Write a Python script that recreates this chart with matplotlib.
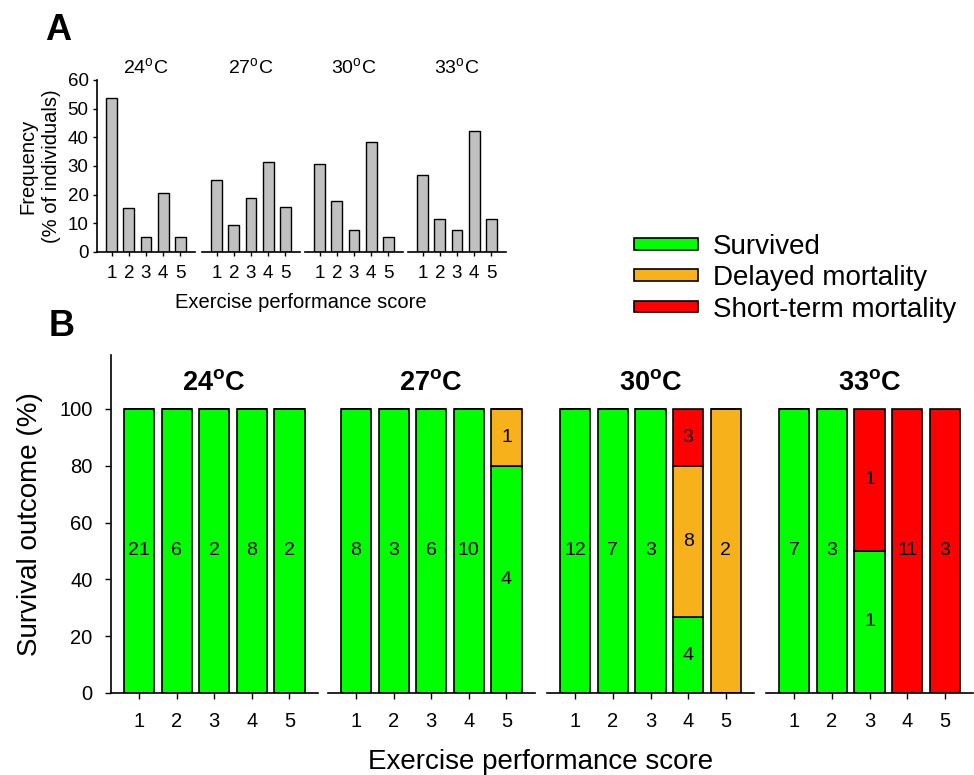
import matplotlib
matplotlib.use('Agg')
import matplotlib.pyplot as plt
from matplotlib.patches import Patch

plt.rcParams['font.family'] = ['Liberation Sans', 'DejaVu Sans']
plt.rcParams['mathtext.fontset'] = 'custom'
plt.rcParams['mathtext.rm'] = 'Liberation Sans'
plt.rcParams['mathtext.bf'] = 'Liberation Sans:bold'

temps = ['24', '27', '30', '33']
scores = [1, 2, 3, 4, 5]

# panel A: frequency (% of individuals) per score
freq = {
    '24': [53.8, 15.4, 5.1, 20.5, 5.1],
    '27': [25.0, 9.4, 18.8, 31.3, 15.6],
    '30': [30.8, 17.9, 7.7, 38.5, 5.1],
    '33': [26.9, 11.5, 7.7, 42.3, 11.5],
}

# panel B: number of individuals per outcome and score
survived = {
    '24': [21, 6, 2, 8, 2],
    '27': [8, 3, 6, 10, 4],
    '30': [12, 7, 3, 4, 0],
    '33': [7, 3, 1, 0, 0],
}
delayed = {
    '24': [0, 0, 0, 0, 0],
    '27': [0, 0, 0, 0, 1],
    '30': [0, 0, 0, 8, 2],
    '33': [0, 0, 0, 0, 0],
}
short_term = {
    '24': [0, 0, 0, 0, 0],
    '27': [0, 0, 0, 0, 0],
    '30': [0, 0, 0, 3, 0],
    '33': [0, 0, 1, 11, 3],
}

outcome_names = ['Survived', 'Delayed mortality', 'Short-term mortality']
outcome_colors = ['#00FF00', '#F7B21B', '#FF0000']

W, H = 974, 775
fig = plt.figure(figsize=(W / 100, H / 100), dpi=100)


def box(left, top, right, bottom):
    return [left / W, 1 - bottom / H, (right - left) / W, (bottom - top) / H]


# ---- panel A ----
a_lefts = [97, 202, 305, 408]
for i, t in enumerate(temps):
    ax = fig.add_axes(box(a_lefts[i], 80, a_lefts[i] + 98, 252))
    ax.bar(scores, freq[t], width=0.62, color='#C0C0C0', edgecolor='black', linewidth=1.0)
    ax.set_xlim(0.15, 5.85)
    ax.set_ylim(0, 60)
    for s in ['top', 'right']:
        ax.spines[s].set_visible(False)
    ax.spines['bottom'].set_linewidth(1.2)
    ax.spines['left'].set_linewidth(1.2)
    ax.set_xticks(scores)
    ax.tick_params(axis='x', direction='out', length=3, width=1, pad=6, labelsize=13.5)
    ax.tick_params(axis='y', direction='out', length=3, width=1, pad=3, labelsize=13.5)
    ax.set_title(t + '$^\\mathrm{o}$C', fontsize=14, pad=4)
    if i == 0:
        ax.set_yticks([0, 10, 20, 30, 40, 50, 60])
        ax.set_ylabel('Frequency\n(% of individuals)', fontsize=14.5, labelpad=5,
                      linespacing=1.3)
    else:
        ax.spines['left'].set_visible(False)
        ax.set_yticks([])

fig.text(301 / W, 1 - 302 / H, 'Exercise performance score', fontsize=14.5,
         ha='center', va='center')
fig.text(45 / W, 1 - 31 / H, 'A', fontsize=26, fontweight='bold', ha='left', va='center')

# ---- panel B ----
b_lefts = [110.7, 327.7, 547, 766]
for i, t in enumerate(temps):
    ax = fig.add_axes(box(b_lefts[i], 355, b_lefts[i] + 207, 693))
    counts = [survived[t], delayed[t], short_term[t]]
    totals = [sum(c[k] for c in counts) for k in range(5)]
    bottoms = [0.0] * 5
    for c, col in zip(counts, outcome_colors):
        pct = [c[k] / totals[k] * 100 for k in range(5)]
        ax.bar(scores, pct, bottom=bottoms, width=0.8, color=col,
               edgecolor='black', linewidth=1.2)
        for k in range(5):
            if c[k] > 0:
                ax.text(scores[k], bottoms[k] + pct[k] / 2, str(c[k]), fontsize=14,
                        ha='center', va='center')
        bottoms = [bottoms[k] + pct[k] for k in range(5)]
    ax.set_xlim(0.25, 5.75)
    ax.set_ylim(0, 119)
    for s in ['top', 'right']:
        ax.spines[s].set_visible(False)
    ax.spines['bottom'].set_linewidth(1.2)
    ax.spines['left'].set_linewidth(1.2)
    ax.set_xticks(scores)
    ax.tick_params(axis='x', direction='out', length=4, width=1, pad=10, labelsize=14.5)
    ax.tick_params(axis='y', direction='out', length=4, width=1, pad=9, labelsize=14.5)
    ax.text(3, 109, t + '$^\\mathbf{o}$C', fontsize=19.5, fontweight='bold',
            ha='center', va='center')
    if i == 0:
        ax.set_yticks([0, 20, 40, 60, 80, 100])
        ax.set_ylabel('Survival outcome (%)', fontsize=20, labelpad=12)
    else:
        ax.spines['left'].set_visible(False)
        ax.set_yticks([])

fig.text(541 / W, 1 - 762 / H, 'Exercise performance score', fontsize=20,
         ha='center', va='center')
fig.text(49 / W, 1 - 326 / H, 'B', fontsize=26, fontweight='bold', ha='left', va='center')

# legend
handles = [Patch(facecolor=c, edgecolor='black', linewidth=1.2) for c in outcome_colors]
fig.legend(handles, outcome_names, loc='upper left', bbox_to_anchor=(634 / W, 1 - 234 / H),
           frameon=False, fontsize=20, handlelength=2.3, handleheight=0.27,
           handletextpad=0.55, labelspacing=0.19, borderpad=0, borderaxespad=0)

fig.savefig('out.png', dpi=100)
